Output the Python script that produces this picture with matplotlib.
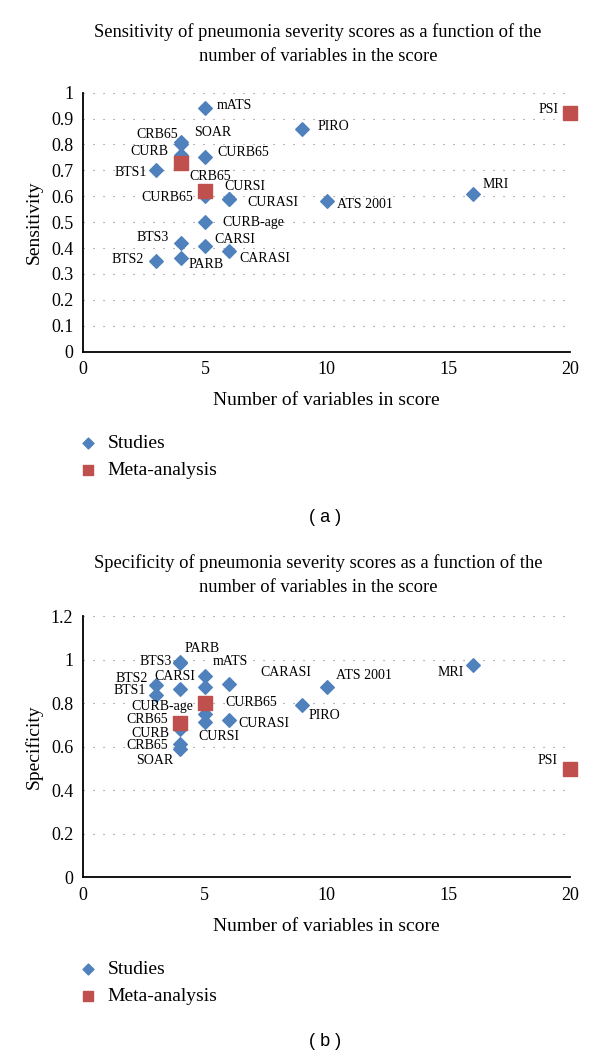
import matplotlib
matplotlib.use("Agg")
import matplotlib.pyplot as plt
import numpy as np

plt.rcParams['font.family'] = ['Liberation Serif', 'DejaVu Serif']

# ---- (a) sensitivity ----
sens_names = ["mATS", "CRB65", "SOAR", "CURB", "CURB65", "BTS1", "CURB65", "CURSI", "CURASI",
              "CURB-age", "BTS3", "CARSI", "CARASI", "BTS2", "PARB", "PIRO", "ATS 2001", "MRI"]
sens_vars = [5, 4, 4, 4, 5, 3, 5, 6, 6, 5, 4, 5, 6, 3, 4, 9, 10, 16]
sens_vals = [0.94, 0.80, 0.81, 0.76, 0.75, 0.70, 0.60, 0.59, 0.59, 0.50, 0.42, 0.41, 0.39,
             0.35, 0.36, 0.86, 0.58, 0.61]
sens_meta_names = ["", "CRB65", "PSI"]
sens_meta_vars = [4, 5, 20]
sens_meta_vals = [0.73, 0.62, 0.92]

# ---- (b) specificity ----
spec_names = ["PARB", "BTS3", "mATS", "CARSI", "", "CARASI", "BTS2", "BTS1", "ATS 2001",
              "CURB-age", "CURSI", "CURASI", "CURB", "CRB65", "SOAR", "PIRO", "MRI"]
spec_vars = [4, 4, 5, 4, 5, 6, 3, 3, 10, 5, 5, 6, 4, 4, 4, 9, 16]
spec_vals = [0.99, 0.985, 0.925, 0.864, 0.874, 0.889, 0.884, 0.838, 0.876, 0.751, 0.716,
             0.723, 0.68, 0.613, 0.588, 0.792, 0.976]
spec_meta_names = ["CURB65", "CRB65", "PSI"]
spec_meta_vars = [5, 4, 20]
spec_meta_vals = [0.803, 0.708, 0.497]

# label placement (pixel offsets from the marker, alignment)
sens_offsets = [(12, 3, 'left'), (-3, 10, 'right'), (13, 9, 'left'), (-12, 3, 'right'),
                (12, 5, 'left'), (-9, -2, 'right'), (-12, -1, 'right'), (-5, 12, 'left'),
                (18, -4, 'left'), (17, 0, 'left'), (-12, 5, 'right'), (9, 6, 'left'),
                (10, -8, 'left'), (-12, 2, 'right'), (8, -6, 'left'), (15, 2, 'left'),
                (10, -3, 'left'), (10, 9, 'left')]
sens_meta_offsets = [(0, 0, 'left'), (5, 15, 'center'), (-11, 4, 'right')]
spec_offsets = [(4, 13, 'left'), (-9, 2, 'right'), (8, 15, 'left'), (-6, 13, 'center'),
                (0, 0, 'left'), (31, 11, 'left'), (-8, 7, 'right'), (-10, 5, 'right'),
                (9, 11, 'left'), (-11, 7, 'right'), (-6, -15, 'left'), (9, -3, 'left'),
                (-11, -4, 'right'), (-12, -2, 'right'), (-7, -11, 'right'), (6, -10, 'left'),
                (-9, -7, 'right')]
spec_meta_offsets = [(21, 0, 'left'), (-12, 4, 'right'), (-12, 9, 'right')]

BLUE = '#4F81BD'
RED = '#C0504D'
W, H = 600, 1058


def fy(py):
    return 1 - py / H


def draw_panel(rect, names, xs, ys, offs, mnames, mxs, mys, moffs,
               ymax, ystep, ylabel, title, title_y, legend_y, tag, tag_y):
    fig = plt.gcf()
    ax = fig.add_axes(rect)
    st = ax.scatter(xs, ys, marker='D', s=48, color=BLUE, zorder=3, label='Studies',
                    clip_on=False)
    mt = ax.scatter(mxs, mys, marker='s', s=95, color=RED, zorder=4, label='Meta-analysis',
                    clip_on=False)
    for n, x, y, (dx, dy, ha) in zip(names + mnames, xs + mxs, ys + mys, offs + moffs):
        if n:
            ax.annotate(n, (x, y), xytext=(dx, dy), textcoords='offset pixels',
                        ha=ha, va='center', fontsize=10, zorder=5)

    ax.set_xlim(0, 20)
    ax.set_ylim(0, ymax)
    ax.set_xticks([0, 5, 10, 15, 20])
    yt = np.round(np.arange(0, ymax + 1e-9, ystep), 2)
    ax.set_yticks(yt)
    ax.set_yticklabels([f"{v:g}" for v in yt])
    ax.tick_params(length=0, labelsize=13, pad=7)
    ax.yaxis.grid(True, linestyle=(0, (1, 8)), color='#808080', linewidth=0.8)
    ax.set_axisbelow(True)
    for s in ['top', 'right']:
        ax.spines[s].set_visible(False)
    for s in ['left', 'bottom']:
        ax.spines[s].set_linewidth(1.3)
    ax.set_xlabel('Number of variables in score', fontsize=14)
    ax.set_ylabel(ylabel, fontsize=14)
    ax.yaxis.set_label_coords(-0.083, 0.5)
    ax.xaxis.set_label_coords(0.5, -0.155)

    fig.text(318 / W, fy(title_y), title, ha='center', va='center',
             fontsize=13.3, linespacing=1.5)
    ax.legend(handles=[st, mt], loc='upper left', bbox_to_anchor=(77.6 / W, fy(legend_y)),
              bbox_transform=fig.transFigure, frameon=False, fontsize=14,
              handlelength=1.1, handletextpad=0.45, borderpad=0, borderaxespad=0,
              labelspacing=0.5, markerscale=0.8)
    fig.text(325 / W, fy(tag_y), tag, ha='center', va='center',
             fontsize=13, family='Liberation Sans')
    return ax


fig = plt.figure(figsize=(W / 100, H / 100), dpi=100)

draw_panel([83.3 / W, fy(351.7), 486.7 / W, 259 / H],
           sens_names, sens_vars, sens_vals, sens_offsets,
           sens_meta_names, sens_meta_vars, sens_meta_vals, sens_meta_offsets,
           1.0, 0.1, 'Sensitivity',
           'Sensitivity of pneumonia severity scores as a function of the\n'
           'number of variables in the score', 44, 434, '( a )', 517)

draw_panel([83.0 / W, fy(877.3), 487.0 / W, 261 / H],
           spec_names, spec_vars, spec_vals, spec_offsets,
           spec_meta_names, spec_meta_vars, spec_meta_vals, spec_meta_offsets,
           1.2, 0.2, 'Specificity',
           'Specificity of pneumonia severity scores as a function of the\n'
           'number of variables in the score', 575, 960, '( b )', 1042)

fig.savefig('out.png', dpi=100)
